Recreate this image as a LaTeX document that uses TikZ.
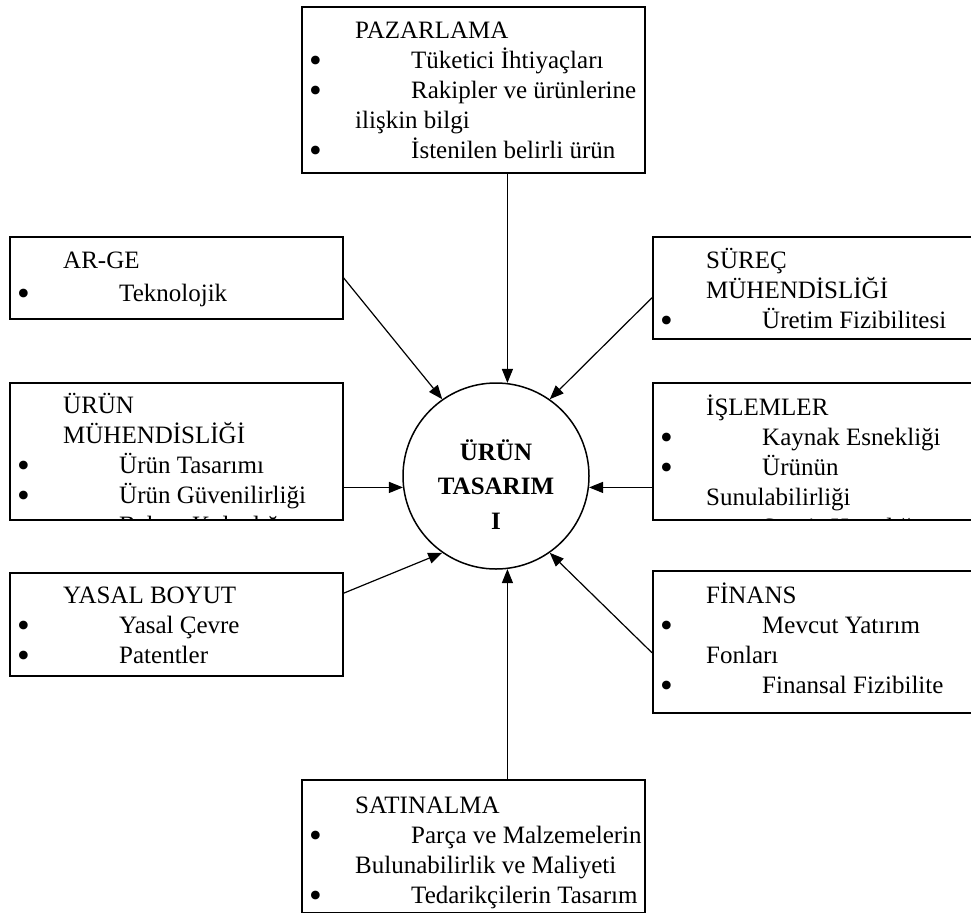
\documentclass[tikz,border=0pt]{standalone}
\usepackage{fontspec}
\setmainfont{Liberation Serif}
\usetikzlibrary{arrows.meta}

% text lines inside the department boxes
\newcommand\boxhead[1]{\hspace*{54pt}#1\par}
\newcommand\boxitem[1]{\makebox[110pt][l]{\hspace*{8pt}\raisebox{-4.5pt}{\scalebox{1.45}{\textbullet}}}#1\par}
\newcommand\boxtext[1]{\parbox[t]{420pt}{\fontsize{25pt}{30pt}\selectfont #1}}

\tikzset{
  panel/.style={draw, rectangle, line width=1.5pt, inner sep=0pt, anchor=north west},
  paneltext/.style={inner sep=0pt, anchor=base west},
  hub/.style={draw, circle, line width=1.5pt, minimum size=186pt, inner sep=0pt},
  hubtext/.style={inner sep=0pt, anchor=base},
  feed/.style={line width=1.2pt, -{Triangle[length=14pt,width=11pt]}}
}

\begin{document}
\begin{tikzpicture}[x=1pt,y=-1pt]
\useasboundingbox (0,0) rectangle (971,913);
\clip (0,0) rectangle (971,913);

% central element
\node[hub] (hub) at (496,476) {};
\node[hubtext] (hub-t) at (496,460)
  {\parbox[t]{180pt}{\centering\fontsize{25pt}{34.5pt}\selectfont\bfseries ÜRÜN\\TASARIM\\I}};

% top
\node[panel, minimum width=343pt, minimum height=166pt] (pz) at (301,6) {};
\node[paneltext] (pz-t) at (301,38) {\boxtext{%
  \boxhead{PAZARLAMA}
  \boxitem{Tüketici İhtiyaçları}
  \boxitem{Rakipler ve ürünlerine}
  \boxhead{ilişkin bilgi}
  \boxitem{İstenilen belirli ürün}}};

% left column
\node[panel, minimum width=333pt, minimum height=82pt] (ar) at (9,236) {};
\node[paneltext] (ar-t) at (9,268) {\boxtext{%
  \boxhead{AR-GE}
  \vspace{3pt}
  \boxitem{Teknolojik}}};

\node[panel, minimum width=333pt, minimum height=137pt] (um) at (9,382) {};
\begin{scope}
  \clip (um.south west) rectangle (um.north east);
  \node[paneltext] (um-t) at (9,413) {\boxtext{%
    \boxhead{ÜRÜN}
    \boxhead{MÜHENDİSLİĞİ}
    \boxitem{Ürün Tasarımı}
    \boxitem{Ürün Güvenilirliği}
    \boxitem{Bakım Kolaylığı}}};
\end{scope}

\node[panel, minimum width=333pt, minimum height=103pt] (ys) at (9,572) {};
\node[paneltext] (ys-t) at (9,603) {\boxtext{%
  \boxhead{YASAL BOYUT}
  \boxitem{Yasal Çevre}
  \boxitem{Patentler}}};

% right column
\node[panel, minimum width=333pt, minimum height=102pt] (sr) at (652,236) {};
\node[paneltext] (sr-t) at (652,268) {\boxtext{%
  \boxhead{SÜREÇ}
  \boxhead{MÜHENDİSLİĞİ}
  \boxitem{Üretim Fizibilitesi}}};

\node[panel, minimum width=333pt, minimum height=137pt] (is) at (652,382) {};
\begin{scope}
  \clip (is.south west) rectangle (is.north east);
  \node[paneltext] (is-t) at (652,415) {\boxtext{%
    \boxhead{İŞLEMLER}
    \boxitem{Kaynak Esnekliği}
    \boxitem{Ürünün}
    \boxhead{Sunulabilirliği}
    \boxitem{Servis Hazırlığı}}};
\end{scope}

\node[panel, minimum width=333pt, minimum height=142pt] (fn) at (652,570) {};
\node[paneltext] (fn-t) at (652,603) {\boxtext{%
  \boxhead{FİNANS}
  \boxitem{Mevcut Yatırım}
  \boxhead{Fonları}
  \boxitem{Finansal Fizibilite}}};

% bottom
\node[panel, minimum width=343pt, minimum height=132.5pt] (sa) at (301,779) {};
\node[paneltext] (sa-t) at (301,813) {\boxtext{%
  \boxhead{SATINALMA}
  \boxitem{Parça ve Malzemelerin}
  \boxhead{Bulunabilirlik ve Maliyeti}
  \boxitem{Tedarikçilerin Tasarım}}};

% inputs flowing into product design
\draw[feed] (pz.south -| hub.83) -- (hub.83);
\draw[feed] (sa.north -| hub.-83) -- (hub.-83);
\draw[feed] (hub.187 -| um.east) -- (hub.187);
\draw[feed] (hub.-7 -| is.west) -- (hub.-7);
\draw[feed] (ar.east) -- (hub.125);
\draw[feed] ([yshift=-10pt]sr.west) -- (hub.55);
\draw[feed] ([yshift=31pt]ys.east) -- (hub.235);
\draw[feed] ([yshift=-11pt]fn.west) -- (hub.305);
\end{tikzpicture}
\end{document}
